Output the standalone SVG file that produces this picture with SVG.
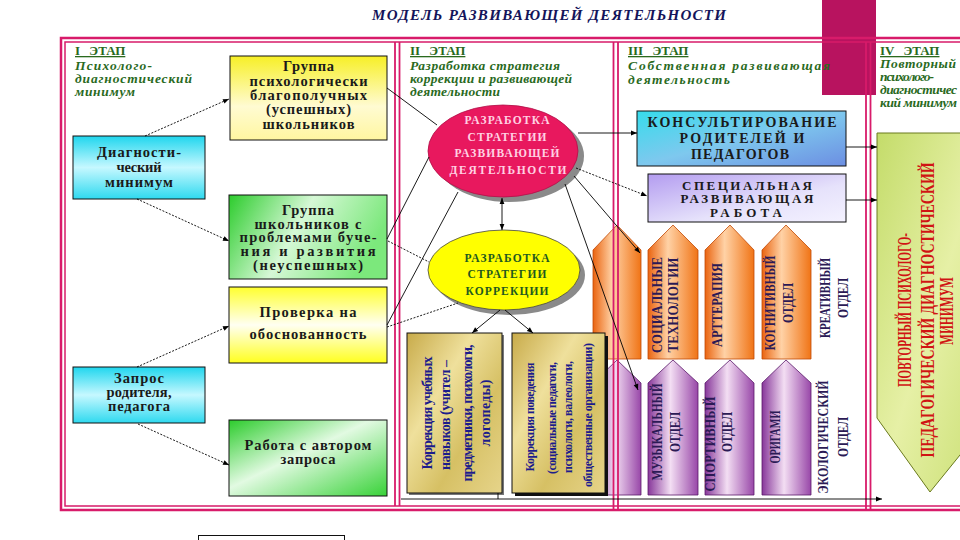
<svg xmlns="http://www.w3.org/2000/svg" width="960" height="540" viewBox="0 0 960 540">
<defs>
<style>
.t{font-family:"Liberation Serif","DejaVu Serif",serif;font-weight:bold}
.bx{stroke:#111;stroke-width:1}
.c{fill:none;stroke:#000;stroke-width:0.9}
.d{stroke-dasharray:2 1.5}
.fr{fill:none;stroke:#d81b6a}
.hd{font-family:"Liberation Serif",serif;font-weight:bold;font-size:13px;fill:#2a6a1e;text-decoration:underline;word-spacing:6px}
.sb{font-family:"Liberation Serif",serif;font-weight:bold;font-style:italic;font-size:13.5px;fill:#2a6a1e}
.m{text-anchor:middle}
.lab{font-family:"Liberation Serif",serif;font-weight:bold;font-size:14px;fill:#2b1a55;text-anchor:middle}
.blk{fill:#1a1a1a}
</style>
<marker id="ah" viewBox="0 0 10 10" refX="10" refY="5" markerWidth="7" markerHeight="6" markerUnits="userSpaceOnUse" orient="auto-start-reverse"><path d="M0,1 L10,5 L0,9 z" fill="#000"/></marker>
<linearGradient id="gYel1" x1="0" y1="0" x2="0" y2="1"><stop offset="0" stop-color="#f7ef26"/><stop offset="0.6" stop-color="#fffbd2"/><stop offset="1" stop-color="#fff6a0"/></linearGradient>
<linearGradient id="gYel2" x1="0" y1="0" x2="0" y2="1"><stop offset="0" stop-color="#ffff2e"/><stop offset="0.5" stop-color="#fffff2"/><stop offset="1" stop-color="#ffff1e"/></linearGradient>
<linearGradient id="gCy" x1="0" y1="0" x2="0" y2="1"><stop offset="0" stop-color="#1fd6ee"/><stop offset="0.5" stop-color="#c6f8ff"/><stop offset="1" stop-color="#2ed9ef"/></linearGradient>
<linearGradient id="gGr1" x1="0" y1="0" x2="1" y2="0.3"><stop offset="0" stop-color="#2ccc2c"/><stop offset="0.5" stop-color="#d6f8d6"/><stop offset="1" stop-color="#7ce87c"/></linearGradient>
<linearGradient id="gGr2" x1="0" y1="0" x2="1" y2="1"><stop offset="0" stop-color="#2ccc2c"/><stop offset="0.45" stop-color="#e2fae2"/><stop offset="1" stop-color="#38d238"/></linearGradient>
<linearGradient id="gKons" x1="0" y1="0" x2="1" y2="1"><stop offset="0" stop-color="#36dcec"/><stop offset="0.5" stop-color="#7ec8ee"/><stop offset="1" stop-color="#6c8ee2"/></linearGradient>
<linearGradient id="gSpec" x1="0" y1="0" x2="1" y2="1"><stop offset="0" stop-color="#b39cf0"/><stop offset="0.6" stop-color="#e6e2fb"/><stop offset="1" stop-color="#f4f2ff"/></linearGradient>
<linearGradient id="gOr" x1="0" y1="0" x2="1" y2="0"><stop offset="0" stop-color="#ea6410"/><stop offset="0.4" stop-color="#ffd2a6"/><stop offset="1" stop-color="#f07416"/></linearGradient>
<linearGradient id="gPu" x1="0" y1="0" x2="1" y2="0"><stop offset="0" stop-color="#87379a"/><stop offset="0.45" stop-color="#f3def3"/><stop offset="1" stop-color="#9847a8"/></linearGradient>
<linearGradient id="gTan" x1="0" y1="0" x2="1" y2="1"><stop offset="0" stop-color="#c8ab4a"/><stop offset="0.35" stop-color="#efe09c"/><stop offset="0.65" stop-color="#d6c064"/><stop offset="1" stop-color="#e6d48a"/></linearGradient>
<linearGradient id="gIV" x1="0" y1="0" x2="1" y2="1"><stop offset="0" stop-color="#c4dc6a"/><stop offset="0.5" stop-color="#e6f0a6"/><stop offset="1" stop-color="#c8de70"/></linearGradient>
</defs>
<rect width="960" height="540" fill="#fff"/>
<rect x="822" y="0" width="54" height="95" fill="#b8135f"/>

<g id="title"><text class="t m" x="549" y="20" font-size="15" font-style="italic" fill="#14145a" textLength="354">МОДЕЛЬ  РАЗВИВАЮЩЕЙ  ДЕЯТЕЛЬНОСТИ</text></g>

<g id="stage-headings">
<text class="hd" x="75" y="55">I  ЭТАП</text>
<text class="sb" x="75" y="70" textLength="77">Психолого-</text>
<text class="sb" x="75" y="83" textLength="117">диагностический</text>
<text class="sb" x="75" y="96" textLength="60">минимум</text>
<text class="hd" x="410" y="55">II  ЭТАП</text>
<text class="sb" x="410" y="70" textLength="150">Разработка стратегия</text>
<text class="sb" x="410" y="83" textLength="162">коррекции и развивающей</text>
<text class="sb" x="410" y="96" textLength="90">деятельности</text>
<text class="hd" x="628" y="55">III  ЭТАП</text>
<text class="sb" x="628" y="70" font-size="15" textLength="202">Собственная  развивающая</text>
<text class="sb" x="628" y="84" font-size="15" textLength="102">деятельность</text>
<text class="hd" x="880" y="55">IV  ЭТАП</text>
<text class="sb" x="880" y="68" font-size="11" textLength="76">Повторный</text>
<text class="sb" x="880" y="81" font-size="11" textLength="54">психолого-</text>
<text class="sb" x="880" y="94" font-size="11" textLength="77">диагностичес</text>
<text class="sb" x="880" y="107" font-size="11" textLength="77">кий минимум</text>
</g>

<g id="n-group-good"><rect class="bx" x="230" y="56" width="157" height="84" fill="url(#gYel1)"/>
<text class="t m blk" font-size="14.5"><tspan x="308.5" y="71" textLength="51">Группа</tspan><tspan x="308.5" y="86" textLength="118">психологически</tspan><tspan x="308.5" y="100" textLength="117">благополучных</tspan><tspan x="308.5" y="114" textLength="85">(успешных)</tspan><tspan x="308.5" y="129" textLength="92">школьников</tspan></text></g>

<g id="n-diag"><rect class="bx" x="73" y="136" width="132" height="63" fill="url(#gCy)"/>
<text class="t m blk" font-size="14.5"><tspan x="139" y="157" textLength="84">Диагности-</tspan><tspan x="139" y="172" textLength="45">ческий</tspan><tspan x="139" y="187" textLength="68">минимум</tspan></text></g>

<g id="n-group-bad"><rect class="bx" x="229" y="195" width="158" height="84" fill="url(#gGr1)"/>
<text class="t m blk" font-size="14.5"><tspan x="308" y="215" textLength="52">Группа</tspan><tspan x="308" y="229" textLength="107">школьников с</tspan><tspan x="308" y="242" textLength="137">проблемами  буче-</tspan><tspan x="308" y="256" textLength="135">ния  и  развития</tspan><tspan x="308" y="270" textLength="110">(неуспешных)</tspan></text></g>

<g id="n-check"><rect class="bx" x="229" y="287" width="158" height="76" fill="url(#gYel2)"/>
<text class="t m blk" font-size="14.5"><tspan x="308" y="317" textLength="97">Проверка на</tspan><tspan x="308" y="339" textLength="117">обоснованность</tspan></text></g>

<g id="n-request"><rect class="bx" x="73" y="367" width="132" height="56" fill="url(#gCy)"/>
<text class="t m blk" font-size="14.5"><tspan x="139" y="383" textLength="50">Запрос</tspan><tspan x="139" y="397" textLength="65">родителя,</tspan><tspan x="139" y="411" textLength="62">педагога</tspan></text></g>

<g id="n-author"><rect class="bx" x="229" y="420" width="158" height="76" fill="url(#gGr2)"/>
<text class="t m blk" font-size="14.5"><tspan x="308" y="450" textLength="127">Работа с автором</tspan><tspan x="308" y="464" textLength="55">запроса</tspan></text></g>

<g id="n-strategy-dev"><ellipse cx="509" cy="156" rx="75" ry="46" fill="#8a8a8a"/><ellipse cx="503" cy="151" rx="75" ry="46" fill="#e8185e" stroke="#b01048" stroke-width="0.8"/>
<text class="t m" font-size="11.5" fill="#ffd0e2"><tspan x="507" y="124" textLength="85">РАЗРАБОТКА</tspan><tspan x="507" y="141" textLength="79">СТРАТЕГИИ</tspan><tspan x="507" y="157" textLength="105">РАЗВИВАЮЩЕЙ</tspan><tspan x="508" y="174" textLength="117">ДЕЯТЕЛЬНОСТИ</tspan></text></g>

<g id="n-strategy-corr"><ellipse cx="509" cy="275" rx="76" ry="40" fill="#8a8a8a"/><ellipse cx="504" cy="270" rx="76" ry="40" fill="#ffff00" stroke="#444" stroke-width="0.8"/>
<text class="t m" font-size="11.5" fill="#1f5a1f"><tspan x="507" y="262" textLength="85">РАЗРАБОТКА</tspan><tspan x="507" y="278" textLength="79">СТРАТЕГИИ</tspan><tspan x="507" y="295" textLength="83">КОРРЕКЦИИ</tspan></text></g>

<g id="n-kons"><rect class="bx" x="637" y="111" width="209" height="55" fill="url(#gKons)"/>
<text class="t m blk" font-size="14"><tspan x="742" y="127" textLength="189">КОНСУЛЬТИРОВАНИЕ</tspan><tspan x="742" y="143" textLength="125">РОДИТЕЛЕЙ  И</tspan><tspan x="740" y="159" textLength="98">ПЕДАГОГОВ</tspan></text></g>

<g id="n-spec"><rect class="bx" x="648" y="174" width="198" height="48" fill="url(#gSpec)"/>
<text class="t m blk" font-size="13"><tspan x="747" y="190" textLength="130">СПЕЦИАЛЬНАЯ</tspan><tspan x="747" y="203" textLength="133">РАЗВИВАЮЩАЯ</tspan><tspan x="746" y="217" textLength="72">РАБОТА</tspan></text></g>

<g id="n-orange-arrows" stroke="#c04a06" stroke-width="0.8" fill="url(#gOr)">
<polygon points="593,250 617,225 641,250 641,359 593,359"/>
<polygon points="648,250 673,225 698,250 698,359 648,359"/>
<polygon points="705,250 730,225 754,250 754,359 705,359"/>
<polygon points="762,250 786,225 811,250 811,359 762,359"/>
</g>
<g id="n-purple-arrows" stroke="#5a1a6a" stroke-width="0.8" fill="url(#gPu)">
<polygon points="593,383 617,360 641,383 641,495 593,495"/>
<polygon points="648,383 673,360 698,383 698,495 648,495"/>
<polygon points="705,383 730,360 754,383 754,495 705,495"/>
<polygon points="762,383 786,360 811,383 811,495 762,495"/>
</g>
<g id="arrow-labels">
<text class="lab" transform="translate(662,305) rotate(-90)" textLength="96" lengthAdjust="spacingAndGlyphs">СОЦИАЛЬНЫЕ</text>
<text class="lab" transform="translate(678,305) rotate(-90)" textLength="95" lengthAdjust="spacingAndGlyphs">ТЕХНОЛОГИИ</text>
<text class="lab" transform="translate(722,305) rotate(-90)" textLength="84" lengthAdjust="spacingAndGlyphs">АРТТЕРАПИЯ</text>
<text class="lab" transform="translate(775,303) rotate(-90)" textLength="95" lengthAdjust="spacingAndGlyphs">КОГНИТИВНЫЙ</text>
<text class="lab" transform="translate(793,303) rotate(-90)" textLength="40" lengthAdjust="spacingAndGlyphs">ОТДЕЛ</text>
<text class="lab" fill="#1a1a1a" transform="translate(830,298) rotate(-90)" textLength="80" lengthAdjust="spacingAndGlyphs">КРЕАТИВНЫЙ</text>
<text class="lab" fill="#1a1a1a" transform="translate(848,298) rotate(-90)" textLength="40" lengthAdjust="spacingAndGlyphs">ОТДЕЛ</text>
<text class="lab" transform="translate(662,432) rotate(-90)" textLength="97" lengthAdjust="spacingAndGlyphs">МУЗЫКАЛЬНЫЙ</text>
<text class="lab" transform="translate(680,432) rotate(-90)" textLength="40" lengthAdjust="spacingAndGlyphs">ОТДЕЛ</text>
<text class="lab" transform="translate(715,444) rotate(-90)" textLength="95" lengthAdjust="spacingAndGlyphs">СПОРТИВНЫЙ</text>
<text class="lab" transform="translate(732,432) rotate(-90)" textLength="40" lengthAdjust="spacingAndGlyphs">ОТДЕЛ</text>
<text class="lab" transform="translate(780,437) rotate(-90)" textLength="53" lengthAdjust="spacingAndGlyphs">ОРИГАМИ</text>
<text class="lab" fill="#1a1a1a" transform="translate(828,437) rotate(-90)" textLength="113" lengthAdjust="spacingAndGlyphs">ЭКОЛОГИЧЕСКИЙ</text>
<text class="lab" fill="#1a1a1a" transform="translate(848,437) rotate(-90)" textLength="40" lengthAdjust="spacingAndGlyphs">ОТДЕЛ</text>
</g>

<g id="n-corr-skills"><rect x="409" y="335" width="95" height="160" fill="#777"/><rect class="bx" x="407" y="333" width="95" height="160" fill="url(#gTan)"/>
<g class="t m" font-size="14" fill="#1c1c8c">
<text transform="translate(432,413) rotate(-90)" textLength="113">Коррекция учебных</text>
<text transform="translate(450,415) rotate(-90)" textLength="110">навыков (учител –</text>
<text transform="translate(472,413) rotate(-90)" textLength="137">предметники, психологи,</text>
<text transform="translate(490,413) rotate(-90)" textLength="67">логопеды)</text>
</g></g>

<g id="n-corr-behav"><rect x="515" y="336" width="93" height="160" fill="#111"/><rect class="bx" x="512" y="333" width="93" height="160" fill="url(#gTan)"/>
<g class="t m" font-size="12" fill="#1c1c8c">
<text transform="translate(534,417) rotate(-90)" textLength="109">Коррекция поведения</text>
<text transform="translate(556,418) rotate(-90)" textLength="112">(социальные педагоги,</text>
<text transform="translate(572,417) rotate(-90)" textLength="112">психологи, валеологи,</text>
<text transform="translate(592,415) rotate(-90)" textLength="144">общественные организации)</text>
</g></g>

<g id="n-repeat"><polygon points="877,133 990,133 990,418 930,492 877,418" fill="url(#gIV)" stroke="#6a7a1e" stroke-width="1"/>
<g class="t m" font-size="18" fill="#d01414">
<text transform="translate(911,310) rotate(-90)" textLength="154" lengthAdjust="spacingAndGlyphs">ПОВТОРНЫЙ  ПСИХОЛОГО-</text>
<text transform="translate(934,310) rotate(-90)" textLength="295" lengthAdjust="spacingAndGlyphs">ПЕДАГОГИЧЕСКИЙ  ДИАГНОСТИЧЕСКИЙ</text>
<text transform="translate(953,311) rotate(-90)" textLength="68" lengthAdjust="spacingAndGlyphs">МИНИМУМ</text>
</g></g>

<g id="frame">
<path class="fr" stroke-width="2.5" d="M960,38 H61 V510 H960"/>
<path class="fr" stroke-width="1.5" d="M960,42 H65 V506 H960"/>
<path class="fr" stroke-width="1.8" d="M395,42 V506 M399.5,42 V506 M613.5,42 V510 M618,42 V510 M866,42 V510 M870.5,42 V510"/>
</g>

<g id="connectors">
<path class="c d" marker-end="url(#ah)" d="M145,136 L229,99"/>
<path class="c d" marker-end="url(#ah)" d="M137,199 L229,241"/>
<path class="c d" marker-end="url(#ah)" d="M137,367 L229,326"/>
<path class="c d" marker-end="url(#ah)" d="M138,424 L229,465"/>
<path class="c" d="M387,88 L437,125"/>
<path class="c" d="M387,239 L429,157"/>
<path class="c d" d="M388,241 L429,262"/>
<path class="c" d="M387,325 L458,192"/>
<path class="c d" d="M387,327 L458,303"/>
<path class="c" marker-start="url(#ah)" marker-end="url(#ah)" d="M502,198 L502,230"/>
<path class="c" marker-end="url(#ah)" d="M578,133 L637,133"/>
<path class="c d" marker-end="url(#ah)" d="M576,168 L647,196"/>
<path class="c" marker-end="url(#ah)" d="M574,176 L640,253"/>
<path class="c" marker-end="url(#ah)" d="M565,184 L638,390"/>
<path class="c" marker-end="url(#ah)" d="M500,310 L472,333"/>
<path class="c" marker-end="url(#ah)" d="M505,310 L533,333"/>
<path class="c" marker-end="url(#ah)" d="M846,147 L877,147"/>
<path class="c" marker-end="url(#ah)" d="M846,200 L877,200"/>
<path class="c" stroke="#777" d="M498,493 V499"/>
<path class="c" marker-end="url(#ah)" d="M401,499 H882"/>
</g>

<rect x="198.5" y="535.5" width="146" height="12" fill="none" stroke="#111" stroke-width="1"/>
</svg>
